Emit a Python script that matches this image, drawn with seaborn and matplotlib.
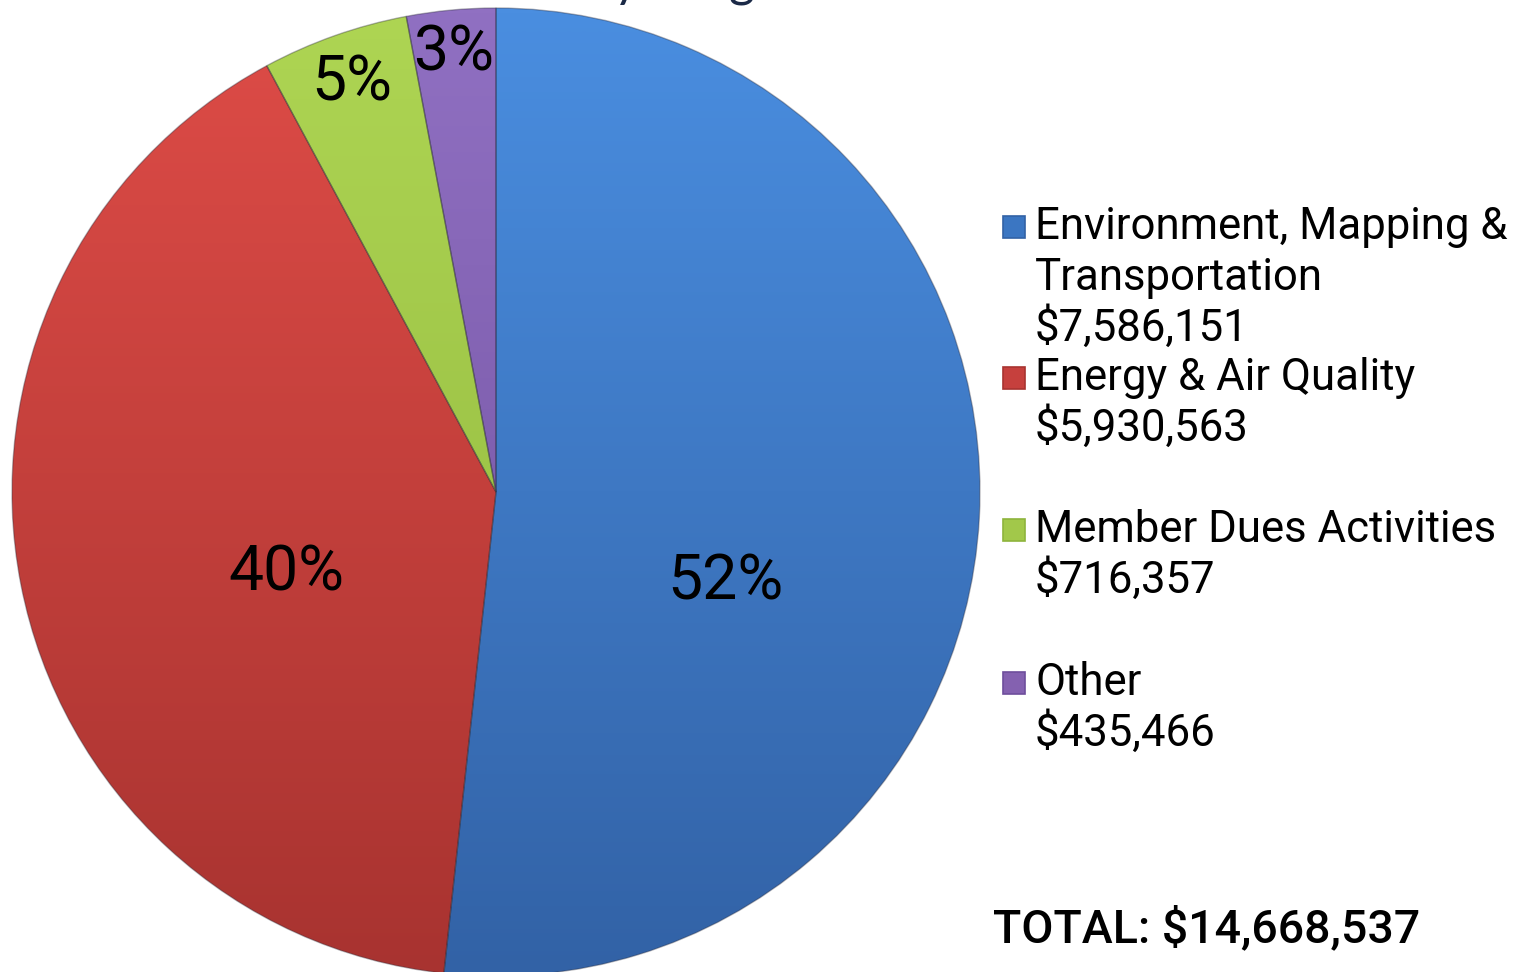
import numpy as np
import matplotlib
matplotlib.use("Agg")
import matplotlib.pyplot as plt
import seaborn as sns
from matplotlib.colors import LinearSegmentedColormap
from matplotlib.patches import Rectangle

# ---------------- data ----------------
categories = ["Environment, Mapping &\nTransportation", "Energy & Air Quality",
              "Member Dues Activities", "Other"]
amounts = [7586151, 5930563, 716357, 435466]
amount_labels = ["$7,586,151", "$5,930,563", "$716,357", "$435,466"]
pct_labels = ["52%", "40%", "5%", "3%"]
total_label = "TOTAL: $14,668,537"
title_text = "Revenue by Program Area"

# ---------------- style ----------------
sns.set_theme(style="white")
plt.rcParams["font.family"] = ["Roboto", "DejaVu Sans"]

base_colors = ["#3B76C2", "#C6403D", "#A2C84A", "#8461B0"]
top_colors = ["#4A8EE0", "#DE4C47", "#AED553", "#9070C2"]
bottom_colors = ["#3262A6", "#A83330", "#8EB43C", "#6E4E9C"]
palette = sns.color_palette(base_colors)

W, H = 1513, 972
fig = plt.figure(figsize=(W / 100, H / 100), dpi=100)
fig.patch.set_facecolor("white")

cx, cy, r = 496, 492, 484
ax = fig.add_axes([(cx - r) / W, (H - cy - r) / H, 2 * r / W, 2 * r / H])

wedges, _ = ax.pie(amounts, colors=palette, startangle=90, counterclock=False,
                   radius=1.0, wedgeprops=dict(linewidth=0.0))

# gradient fill clipped to each wedge
grad = np.linspace(1, 0, 256).reshape(-1, 1)
for w, tc, bc in zip(wedges, top_colors, bottom_colors):
    cmap = LinearSegmentedColormap.from_list("g", [bc, tc])
    im = ax.imshow(grad, extent=(-1, 1, -1, 1), cmap=cmap, aspect="auto",
                   origin="upper", zorder=1, interpolation="bilinear")
    im.set_clip_path(w)
    w.set_facecolor("none")
    w.set_edgecolor((0.15, 0.15, 0.2, 0.35))
    w.set_linewidth(1.0)
    w.set_zorder(2)

# percentage labels
label_pos = [(0.474, -0.188), (-0.433, -0.169), (-0.299, 0.843), (-0.087, 0.905)]
for txt, (lx, ly) in zip(pct_labels, label_pos):
    ax.text(lx, ly, txt, ha="center", va="center", fontsize=45, color="black", zorder=5)

ax.set_xlim(-1, 1)
ax.set_ylim(-1, 1)
ax.set_axis_off()

# legend (drawn manually to match the multi-line layout)
slot_tops = [227, 378, 530, 683]
line_h = 50.5
for i, (cat, col) in enumerate(zip(categories, bottom_colors)):
    y0 = slot_tops[i]
    fig.patches.append(Rectangle((1003 / W, 1 - (y0 + 11) / H), 22 / W, 22 / H,
                                 transform=fig.transFigure, facecolor=base_colors[i],
                                 edgecolor=col, linewidth=1.2))
    lines = cat.split("\n") + [amount_labels[i]]
    for j, ln in enumerate(lines):
        fig.text(1035 / W, 1 - (y0 + j * line_h) / H, ln, ha="left", va="center",
                 fontsize=31.5, color="black")

fig.text(993 / W, 1 - 928 / H, total_label, ha="left", va="center",
         fontsize=33.5, fontweight="medium", color="black")

# title (mostly above the visible canvas, as in the source image)
fig.text(668 / W, 1 + 4 / H, title_text, ha="center", va="baseline",
         fontsize=36, color="#1B2A47", family=["Lato", "DejaVu Sans"])

fig.savefig("out.png", dpi=100, facecolor="white")
